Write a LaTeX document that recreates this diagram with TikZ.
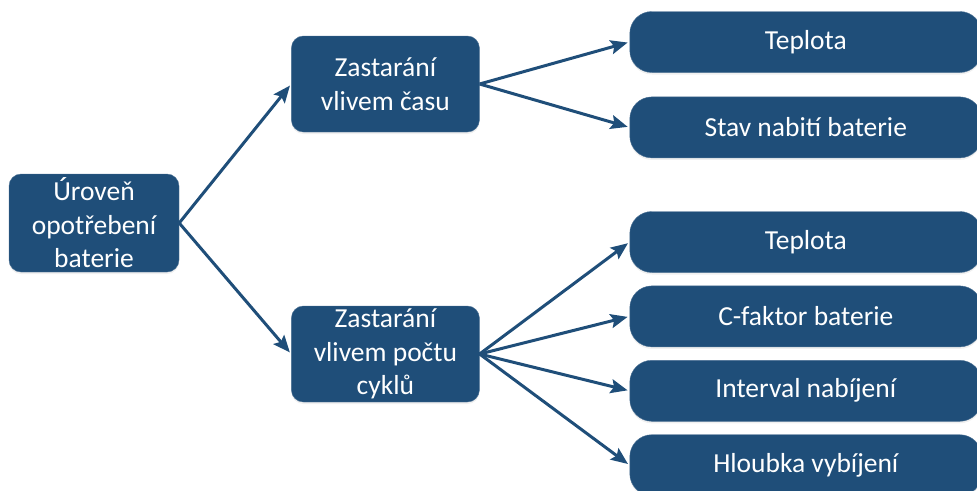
\documentclass[tikz,border=0pt]{standalone}
\usepackage{fontspec}
\setmainfont{Carlito}
\usepackage{xcolor}
\usetikzlibrary{positioning, arrows.meta, shadows}

\definecolor{boxblue}{HTML}{1F4E79}

\begin{document}
\begin{tikzpicture}[
			x=1pt, y=1pt,
			font=\fontsize{27.5pt}{33.5pt}\selectfont,
			% Define styles for the blocks
			mainbox/.style={
				fill=boxblue,
				draw=boxblue!80!white,
				thin,
				text=white,
				align=center,
				inner sep=2pt,
				rounded corners=12pt,
				drop shadow={shadow xshift=0pt, shadow yshift=-2pt, opacity=0.12}
			},
			leafbox/.style={
				mainbox,
				minimum width=352pt,
				minimum height=61pt,
				rounded corners=22pt
			},
			link/.style={
				draw=boxblue,
				line width=3pt,
				-{Stealth[length=17pt, width=14pt, inset=3pt]},
				shorten >=2pt
			}
			]
			
			\clip (0,0) rectangle (977,-490);
			\useasboundingbox (0,0) rectangle (977,-490);
			
			% --- 1. ROOT ---
			\node[mainbox, minimum width=170pt, minimum height=98pt] (root) at (94,-223) {Úroveň\\opotřebení\\baterie};
			
			% --- 2. AGEING ---
			\node[mainbox, minimum width=188pt, minimum height=96pt, right=112pt of root, yshift=139pt] (time) {Zastarání\\vlivem času};
			\node[mainbox, minimum width=188pt, minimum height=96pt, right=112pt of root, yshift=-131pt] (cycles) {Zastarání\\vlivem počtu\\cyklů};
			
			\draw[link] (root.east) -- (time.west);
			\draw[link] (root.east) -- (cycles.west);
			
			% --- 3. FACTORS (time) ---
			\node[leafbox, right=150pt of time, yshift=42pt] (temp_a) {Teplota};
			\node[leafbox, below=24pt of temp_a] (soc) {Stav nabití baterie};
			
			\draw[link] (time.east) -- (temp_a.west);
			\draw[link] (time.east) -- (soc.west);
			
			% --- 4. FACTORS (cycles) ---
			\node[leafbox, right=150pt of cycles, yshift=112pt] (temp_b) {Teplota};
			\node[leafbox, below=13pt of temp_b] (crate) {C-faktor baterie};
			\node[leafbox, below=13pt of crate] (interval) {Interval nabíjení};
			\node[leafbox, below=13pt of interval] (dod) {Hloubka vybíjení};
			
			\draw[link] (cycles.east) -- (temp_b.west);
			\draw[link] (cycles.east) -- (crate.west);
			\draw[link] (cycles.east) -- (interval.west);
			\draw[link] (cycles.east) -- (dod.west);
			
		\end{tikzpicture}
\end{document}
